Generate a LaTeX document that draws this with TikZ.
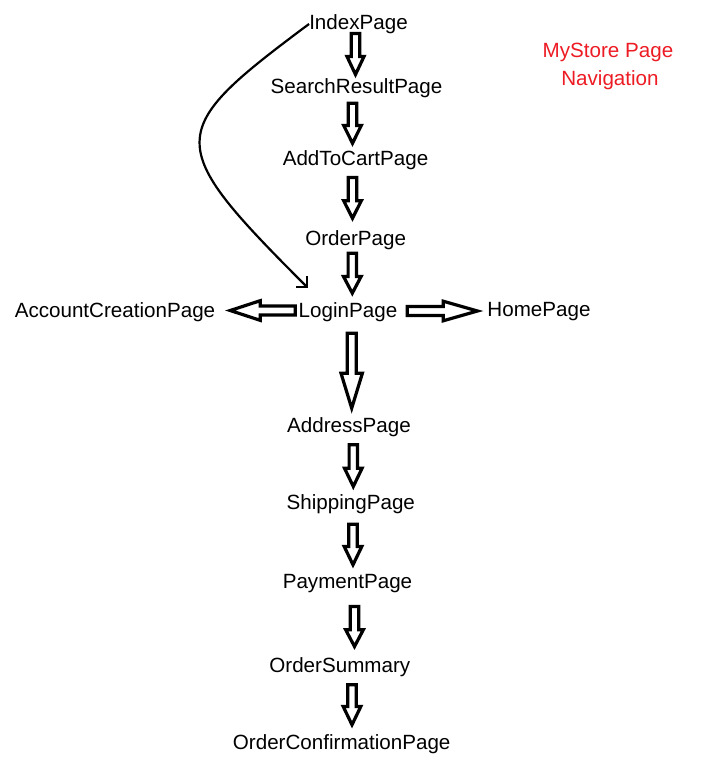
\documentclass[tikz,border=0pt]{standalone}
\usepackage{fontspec}
\setmainfont{Liberation Sans}
\usetikzlibrary{arrows.meta}
\definecolor{titlered}{RGB}{237,28,36}
\tikzset{
  lbl/.style={anchor=base, inner sep=0pt, font=\fontsize{20.6}{24}\selectfont},
  titlelbl/.style={lbl, text=titlered},
  blk/.style={draw=black, line width=3.2pt, fill=white, line join=miter},
  thinarrow/.style={draw=black, line width=2.2pt, -{Straight Barb[angle=90:11pt]}},
}
% vertical (downward) block arrow: x, top, head base, tip, shaft half, head half (outer sizes)
\newcommand\vblk[6]{%
  \draw[blk] ({#1-#5+1.5},{#2+1.5}) -- ({#1+#5-1.5},{#2+1.5}) -- ({#1+#5-1.5},{#3+1.5})
    -- ({#1+#6-1.5},{#3+1.5}) -- (#1,{#4-3.5}) -- ({#1-#6+1.5},{#3+1.5})
    -- ({#1-#5+1.5},{#3+1.5}) -- cycle;}
% horizontal block arrow: y, tail, head base, tip, shaft half, head half, direction (+1 right, -1 left)
\newcommand\hblk[7]{%
  \draw[blk] ({#2+1.5*#7},{#1-#5+1.5}) -- ({#3+1.5*#7},{#1-#5+1.5}) -- ({#3+1.5*#7},{#1-#6+1.5})
    -- ({#4-3.5*#7},#1) -- ({#3+1.5*#7},{#1+#6-1.5}) -- ({#3+1.5*#7},{#1+#5-1.5})
    -- ({#2+1.5*#7},{#1+#5-1.5}) -- cycle;}
\begin{document}
\begin{tikzpicture}[x=1pt, y=-1pt]
  \useasboundingbox[fill=white] (0,0) rectangle (727,780);

  % page labels
  \node[lbl] (idx)   at (358.5, 29.3)  {IndexPage};
  \node[lbl] (srch)  at (356.5, 93.3)  {SearchResultPage};
  \node[lbl] (cart)  at (355.5, 165)   {AddToCartPage};
  \node[lbl] (ord)   at (355.7, 245)   {OrderPage};
  \node[lbl] (login) at (348, 317.7)   {LoginPage};
  \node[lbl] (acct)  at (115, 317.5)   {AccountCreationPage};
  \node[lbl] (home)  at (539, 316.5)   {HomePage};
  \node[lbl] (addr)  at (349, 432.7)   {AddressPage};
  \node[lbl] (ship)  at (350.8, 509.3) {ShippingPage};
  \node[lbl] (pay)   at (347.5, 588.3) {PaymentPage};
  \node[lbl] (summ)  at (339.8, 672.7) {OrderSummary};
  \node[lbl] (conf)  at (341.7, 749.3) {OrderConfirmationPage};

  % title
  \node[titlelbl] (title1) at (608, 57.3) {MyStore Page};
  \node[titlelbl] (title2) at (610, 85)   {Navigation};

  % block arrows (vertical)
  \vblk{355.5}{32}{55}{78}{5.7}{10}
  \vblk{352.5}{101.7}{124}{146.7}{5.7}{10.3}
  \vblk{352.5}{176}{199.3}{221.7}{5.7}{10.3}
  \vblk{352.3}{251.7}{275}{296.7}{5.7}{10.3}
  \vblk{351.7}{331.7}{371.7}{411.7}{6}{12.2}
  \vblk{353.3}{443.3}{466.7}{490}{5.7}{10.3}
  \vblk{353}{522.7}{545}{568.3}{5.7}{10.3}
  \vblk{354.5}{605}{628.3}{650}{5.7}{10.3}
  \vblk{352}{683.3}{705}{728.3}{5.7}{10.3}

  % block arrows (horizontal)
  \hblk{310.5}{296.7}{261.7}{226.7}{6}{11.3}{-1}
  \hblk{311}{405.7}{441.7}{481}{6}{11.3}{1}

  % curved connector IndexPage -> LoginPage
  \coordinate (ltip) at (308.3, 288.3);
  \draw[thinarrow] (idx.west) .. controls (164,132) and (163,143) .. (ltip);
\end{tikzpicture}
\end{document}
